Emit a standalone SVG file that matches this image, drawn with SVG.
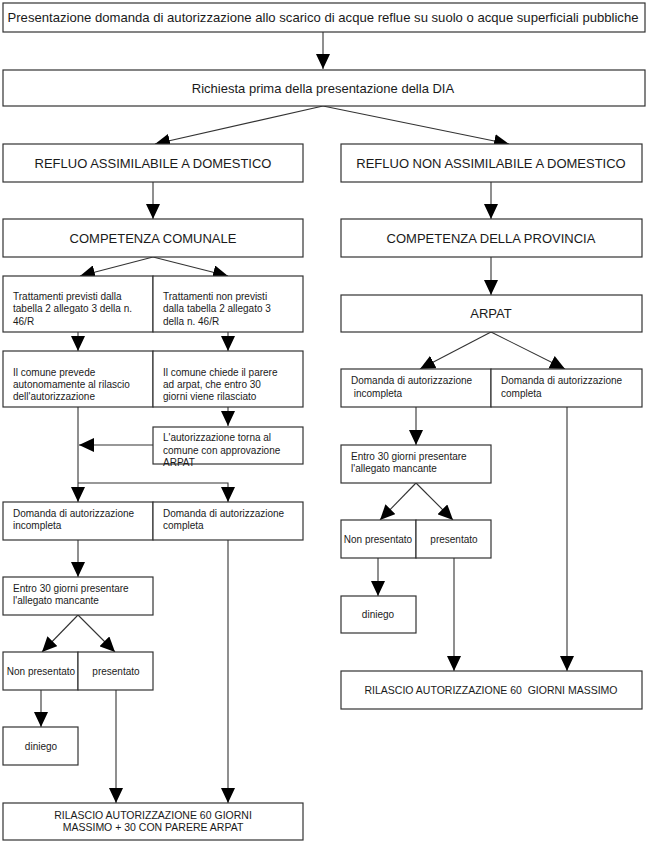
<svg xmlns="http://www.w3.org/2000/svg" width="650" height="851" viewBox="0 0 650 851">
<style>
rect{fill:#fff;stroke:#333;stroke-width:1.2}
text{font-family:"Liberation Sans",Arial,sans-serif;fill:#1a1a1a}
.c{text-anchor:middle}
.h{font-size:13px}
.s{font-size:10px}
.m{font-size:10.5px}
.con path{fill:none;stroke:#333;stroke-width:1.1}
.con path.a{marker-end:url(#ah)}
</style>
<defs>
<marker id="ah" markerUnits="userSpaceOnUse" markerWidth="15" markerHeight="14" refX="15" refY="7" orient="auto">
<path d="M0,0 L15,7 L0,14 z" fill="#000"/>
</marker>
</defs>
<g class="con">
<path class="a" d="M323,32 V69"/>
<path class="a" d="M323,106 L155,144"/>
<path class="a" d="M323,106 L509,144"/>
<path class="a" d="M153,182 V219"/>
<path class="a" d="M491,182 V219"/>
<path class="a" d="M153,257 L80,276"/>
<path class="a" d="M153,257 L228,276"/>
<path class="a" d="M491,257 V295"/>
<path class="a" d="M78,332 V351"/>
<path class="a" d="M228,332 V351"/>
<path class="a" d="M228,407 V426"/>
<path class="a" d="M153,445 H79"/>
<path class="a" d="M78,407 V502"/>
<path class="a" d="M78,483 H228 V502"/>
<path class="a" d="M78,540 V577"/>
<path class="a" d="M78,615 L42,652"/>
<path class="a" d="M78,615 L115,652"/>
<path class="a" d="M41,690 V727"/>
<path class="a" d="M116,690 V803"/>
<path class="a" d="M228,540 V803"/>
<path class="a" d="M491,332 L420,369"/>
<path class="a" d="M491,332 L565,369"/>
<path class="a" d="M416,407 V445"/>
<path class="a" d="M416,483 L380,520"/>
<path class="a" d="M416,483 L453,520"/>
<path class="a" d="M378,558 V596"/>
<path class="a" d="M454,558 V671"/>
<path class="a" d="M567,407 V671"/>
</g>
<g id="n-top"><rect x="3" y="3" width="642" height="29"/><text class="h c" x="323" y="22" textLength="631" lengthAdjust="spacingAndGlyphs">Presentazione domanda di autorizzazione allo scarico di acque reflue su suolo o acque superficiali pubbliche</text></g>
<g id="n-dia"><rect x="3" y="70" width="642" height="36"/><text class="h c" x="323" y="93">Richiesta prima della presentazione della DIA</text></g>
<g id="n-refluo-ass"><rect x="3" y="144" width="300" height="38"/><text class="h c" x="153" y="168">REFLUO ASSIMILABILE A DOMESTICO</text></g>
<g id="n-refluo-non"><rect x="341" y="144" width="301" height="38"/><text class="h c" x="491" y="168">REFLUO NON ASSIMILABILE A DOMESTICO</text></g>
<g id="n-comunale"><rect x="3" y="219" width="300" height="38"/><text class="h c" x="153" y="243">COMPETENZA COMUNALE</text></g>
<g id="n-provincia"><rect x="341" y="219" width="301" height="38"/><text class="h c" x="491" y="243">COMPETENZA DELLA PROVINCIA</text></g>
<g id="n-tratt-prev"><rect x="3" y="276" width="150" height="56"/><text class="s" x="13" y="300">Trattamenti previsti dalla</text><text class="s" x="13" y="312">tabella 2 allegato 3 della n.</text><text class="s" x="13" y="325">46/R</text></g>
<g id="n-tratt-non"><rect x="153" y="276" width="150" height="56"/><text class="s" x="163" y="300">Trattamenti non previsti</text><text class="s" x="163" y="312">dalla tabella 2 allegato 3</text><text class="s" x="163" y="325">della n. 46/R</text></g>
<g id="n-comune-prevede"><rect x="3" y="351" width="150" height="56"/><text class="s" x="13" y="376">Il comune prevede</text><text class="s" x="13" y="388">autonomamente al rilascio</text><text class="s" x="13" y="400">dell'autorizzazione</text></g>
<g id="n-comune-chiede"><rect x="153" y="351" width="150" height="56"/><text class="s" x="163" y="376">Il comune chiede il parere</text><text class="s" x="163" y="388">ad arpat, che entro 30</text><text class="s" x="163" y="400">giorni viene rilasciato</text></g>
<g id="n-torna"><rect x="153" y="427" width="150" height="37"/><text class="s" x="163" y="441">L'autorizzazione torna al</text><text class="s" x="163" y="454">comune con approvazione</text><text class="s" x="163" y="466">ARPAT</text></g>
<g id="n-l-incompleta"><rect x="3" y="502" width="150" height="38"/><text class="s" x="13" y="517">Domanda di autorizzazione</text><text class="s" x="13" y="529">incompleta</text></g>
<g id="n-l-completa"><rect x="153" y="502" width="150" height="38"/><text class="s" x="163" y="517">Domanda di autorizzazione</text><text class="s" x="163" y="529">completa</text></g>
<g id="n-l-entro"><rect x="3" y="577" width="150" height="38"/><text class="s" x="13" y="592">Entro 30 giorni presentare</text><text class="s" x="13" y="604">l'allegato mancante</text></g>
<g id="n-l-nonpres"><rect x="3" y="652" width="75" height="38"/><text class="s c" x="41" y="675">Non presentato</text></g>
<g id="n-l-pres"><rect x="78" y="652" width="75" height="38"/><text class="s c" x="116" y="675">presentato</text></g>
<g id="n-l-diniego"><rect x="3" y="727" width="75" height="38"/><text class="s c" x="41" y="750">diniego</text></g>
<g id="n-l-rilascio"><rect x="3" y="803" width="300" height="37"/><text class="m c" x="153" y="819">RILASCIO AUTORIZZAZIONE 60 GIORNI</text><text class="m c" x="153" y="831">MASSIMO + 30 CON PARERE ARPAT</text></g>
<g id="n-arpat"><rect x="341" y="295" width="301" height="37"/><text class="h c" x="491" y="318">ARPAT</text></g>
<g id="n-r-incompleta"><rect x="341" y="369" width="150" height="38"/><text class="s" x="351" y="384">Domanda di autorizzazione</text><text class="s" x="351" y="397" xml:space="preserve"> incompleta</text></g>
<g id="n-r-completa"><rect x="491" y="369" width="151" height="38"/><text class="s" x="501" y="384">Domanda di autorizzazione</text><text class="s" x="501" y="397">completa</text></g>
<g id="n-r-entro"><rect x="341" y="445" width="150" height="38"/><text class="s" x="351" y="460">Entro 30 giorni presentare</text><text class="s" x="351" y="472">l'allegato mancante</text></g>
<g id="n-r-nonpres"><rect x="341" y="520" width="75" height="38"/><text class="s c" x="378" y="543">Non presentato</text></g>
<g id="n-r-pres"><rect x="416" y="520" width="75" height="38"/><text class="s c" x="454" y="543">presentato</text></g>
<g id="n-r-diniego"><rect x="341" y="596" width="75" height="37"/><text class="s c" x="378" y="618">diniego</text></g>
<g id="n-r-rilascio"><rect x="341" y="671" width="301" height="38"/><text class="m c" x="491" y="694" xml:space="preserve">RILASCIO AUTORIZZAZIONE 60  GIORNI MASSIMO</text></g>
</svg>
